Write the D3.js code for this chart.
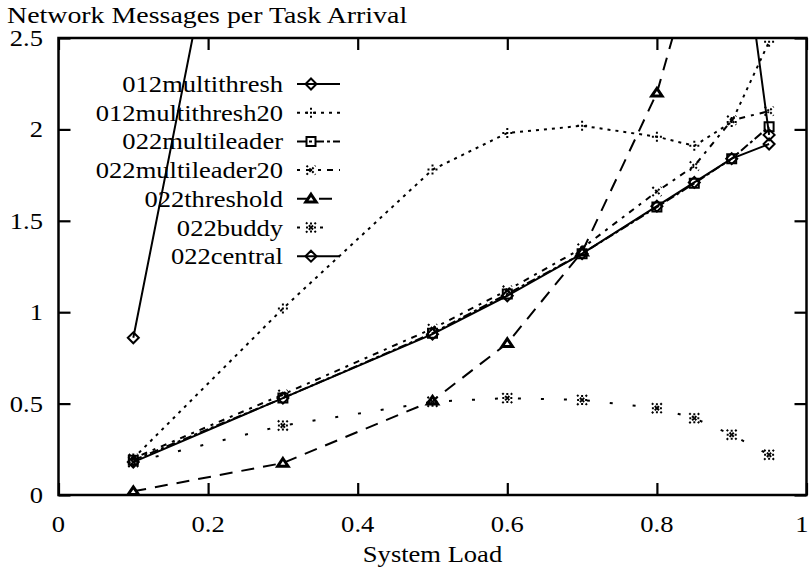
<!DOCTYPE html>
<html>
<head>
<meta charset="utf-8">
<script src="https://cdn.jsdelivr.net/npm/d3@7"></script>
<style>
  html, body { margin: 0; padding: 0; background: #fff; }
</style>
</head>
<body>
<svg id="chart" width="810" height="574"></svg>
<script>
// ---- data ----
const loads = [0.1, 0.3, 0.5, 0.6, 0.7, 0.8, 0.85, 0.9, 0.95];
const multithresh012 = [0.86, 5.0, 6.2, 6.6, 6.9, 6.4, 5.2, 3.5, 1.97];
const multithresh20_012 = [0.2, 1.02, 1.78, 1.98, 2.02, 1.96, 1.91, 2.04, 2.48];
const multileader022 = [0.19, 0.53, 0.885, 1.10, 1.32, 1.575, 1.705, 1.84, 2.015];
const multileader20_022 = [0.2, 0.55, 0.91, 1.12, 1.35, 1.66, 1.80, 2.05, 2.1];
const threshold022 = [0.02, 0.175, 0.515, 0.83, 1.33, 2.2, 2.92, 3.6, 4.4];
const buddy022 = [0.18, 0.38, 0.51, 0.53, 0.52, 0.475, 0.42, 0.33, 0.22];
const central022 = [0.18, 0.53, 0.88, 1.09, 1.32, 1.58, 1.71, 1.84, 1.92];
const seriesNames = ["012multithresh", "012multithresh20", "022multileader", "022multileader20", "022threshold", "022buddy", "022central"];
const xTicks = [0, 0.2, 0.4, 0.6, 0.8, 1];
const xTickLabels = ["0", "0.2", "0.4", "0.6", "0.8", "1"];
const yTicks = [0, 0.5, 1, 1.5, 2, 2.5];
const yTickLabels = ["0", "0.5", "1", "1.5", "2", "2.5"];
const titleText = "Network Messages per Task Arrival";
const xLabelText = "System Load";

// ---- styles ----
const seriesValues = [multithresh012, multithresh20_012, multileader022, multileader20_022, threshold022, buddy022, central022];
const styles = [
  {dash: null, marker: "diamond"},
  {dash: "3,5", marker: "plus"},
  {dash: "9,3,3,3", marker: "square"},
  {dash: "3,6,6,6", marker: "cross"},
  {dash: "13,9", marker: "triangle"},
  {dash: "3,20", marker: "star"},
  {dash: null, marker: "diamond"}
];

const svg = d3.select("#chart");
const L = 58.5, R = 806.5, T = 38, B = 495;
const x = d3.scaleLinear().domain([0, 1]).range([L, R]);
const y = d3.scaleLinear().domain([0, 2.5]).range([B, T]);
const FS = 22.5, SX = 1.18;
const FONT = "'Liberation Serif', 'Times New Roman', Times, 'Nimbus Roman', serif";

function txt(g, s, px, py, anchor, sx) {
  g.append("text")
    .attr("transform", `translate(${px},${py}) scale(${sx || SX},1)`)
    .attr("text-anchor", anchor)
    .attr("font-family", FONT)
    .attr("font-size", FS)
    .attr("fill", "#000")
    .text(s);
}

svg.append("defs").append("clipPath").attr("id", "clip")
  .append("rect").attr("x", L).attr("y", T).attr("width", R - L).attr("height", B - T);

// axes via d3 axis generators (ticks inward, no labels), mirrored
const tickLen = 12;
const axB = svg.append("g").attr("transform", `translate(0,${B})`)
  .call(d3.axisTop(x).tickValues(xTicks).tickSize(tickLen).tickFormat(""));
const axT = svg.append("g").attr("transform", `translate(0,${T})`)
  .call(d3.axisBottom(x).tickValues(xTicks).tickSize(tickLen).tickFormat(""));
const axL = svg.append("g").attr("transform", `translate(${L},0)`)
  .call(d3.axisRight(y).tickValues(yTicks).tickSize(tickLen).tickFormat(""));
const axR = svg.append("g").attr("transform", `translate(${R},0)`)
  .call(d3.axisLeft(y).tickValues(yTicks).tickSize(tickLen).tickFormat(""));
[axB, axT, axL, axR].forEach(a => {
  a.select(".domain").remove();
  a.selectAll("line").attr("stroke", "#000").attr("stroke-width", 2.2);
});
svg.append("rect").attr("x", L).attr("y", T).attr("width", R - L).attr("height", B - T)
  .attr("fill", "none").attr("stroke", "#000").attr("stroke-width", 2.5);

// tick labels
const gl = svg.append("g");
xTicks.forEach((v, i) => txt(gl, xTickLabels[i], Math.min(x(v), 802), B + 37, "middle"));
yTicks.forEach((v, i) => txt(gl, yTickLabels[i], 43, y(v) + 8, "end"));
txt(gl, titleText, 7, 23, "start", 1.24);
txt(gl, xLabelText, (L + R) / 2, 562, "middle");

// markers
function markerPath(type, cx, cy) {
  const p = d3.path();
  if (type === "diamond") {
    const r = 5.5;
    p.moveTo(cx, cy - r); p.lineTo(cx + r, cy); p.lineTo(cx, cy + r); p.lineTo(cx - r, cy); p.closePath();
  } else if (type === "square") {
    const r = 4.5;
    p.rect(cx - r, cy - r, 2 * r, 2 * r);
  } else if (type === "triangle") {
    const r = 4.5;
    p.moveTo(cx, cy - r); p.lineTo(cx + r * 1.15, cy + r * 0.7); p.lineTo(cx - r * 1.15, cy + r * 0.7); p.closePath();
  } else if (type === "plus") {
    const r = 5;
    p.moveTo(cx - r, cy); p.lineTo(cx + r, cy); p.moveTo(cx, cy - r); p.lineTo(cx, cy + r);
  } else if (type === "cross") {
    const r = 4.5;
    p.moveTo(cx - r, cy - r); p.lineTo(cx + r, cy + r); p.moveTo(cx - r, cy + r); p.lineTo(cx + r, cy - r);
  } else if (type === "star") {
    const r = 5;
    p.moveTo(cx - r, cy); p.lineTo(cx + r, cy); p.moveTo(cx, cy - r); p.lineTo(cx, cy + r);
    p.moveTo(cx - r, cy - r); p.lineTo(cx + r, cy + r); p.moveTo(cx - r, cy + r); p.lineTo(cx + r, cy - r);
  }
  return p.toString();
}
const isFrag = m => m === "plus" || m === "cross" || m === "star";

function drawMarker(g, type, cx, cy) {
  g.append("path").attr("d", markerPath(type, cx, cy))
    .attr("fill", type === "triangle" ? "#fff" : "none")
    .attr("stroke", "#000").attr("stroke-width", type === "triangle" ? 3 : 2)
    .attr("stroke-linejoin", "miter")
    .attr("stroke-dasharray", isFrag(type) ? "2,2" : null);
}

const line = d3.line().x(d => x(d[0])).y(d => y(d[1]));
const plot = svg.append("g").attr("clip-path", "url(#clip)");
seriesValues.forEach((vals, si) => {
  const st = styles[si];
  const pts = loads.map((l, i) => [l, vals[i]]);
  plot.append("path").attr("d", line(pts)).attr("fill", "none")
    .attr("stroke", "#000").attr("stroke-width", 2)
    .attr("stroke-dasharray", st.dash);
  pts.filter(d => d[1] <= 2.5).forEach(d => drawMarker(plot, st.marker, x(d[0]), y(d[1])));
});

// legend
const lg = svg.append("g");
const legY0 = 84, legDy = 28.7;
seriesNames.forEach((name, i) => {
  const yy = legY0 + i * legDy;
  txt(lg, name, 283, yy + 8, "end");
  lg.append("line").attr("x1", 297).attr("x2", 340).attr("y1", yy).attr("y2", yy)
    .attr("stroke", "#000").attr("stroke-width", 2).attr("stroke-dasharray", styles[i].dash);
  drawMarker(lg, styles[i].marker, 311, yy);
});
</script>
</body>
</html>
